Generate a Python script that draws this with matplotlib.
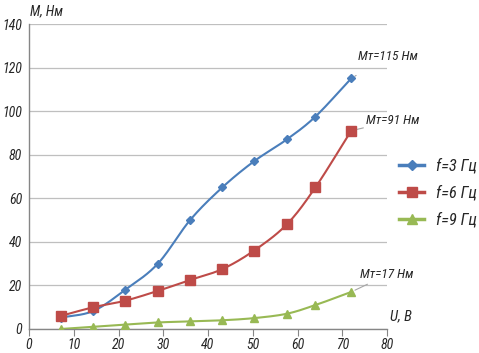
import numpy as np
import matplotlib
matplotlib.use("Agg")
import matplotlib.pyplot as plt
from matplotlib.lines import Line2D

# ---- data ----
u_values = [7.1, 14.4, 21.5, 28.8, 36.0, 43.2, 50.3, 57.6, 64.0, 72.0]
m_f3 = [5.2, 8.3, 18.0, 30.0, 50.0, 65.0, 77.0, 87.0, 97.5, 115.0]
m_f6 = [6.0, 10.0, 13.0, 17.5, 22.5, 27.5, 36.0, 48.0, 65.0, 91.0]
m_f9 = [0.0, 1.0, 2.0, 3.0, 3.5, 4.0, 5.0, 7.0, 11.0, 17.0]
series_labels = ["f=3 Гц", "f=6 Гц", "f=9 Гц"]
annot_labels = ["Мт=115 Нм", "Мт=91 Нм", "Мт=17 Нм"]
x_ticks = [0, 10, 20, 30, 40, 50, 60, 70, 80]
y_ticks = [0, 20, 40, 60, 80, 100, 120, 140]

colors = ["#4A7EBB", "#BE4B48", "#98B954"]
markers = ["D", "s", "^"]
msizes = [4.5, 6.5, 6]

FAM = ["Roboto Condensed", "DejaVu Sans"]
FONT = dict(family=FAM, style="italic")
TXT = "#262626"


def smooth(xs, ys, n=24):
    xs = np.asarray(xs, float); ys = np.asarray(ys, float)
    px = np.concatenate([[2 * xs[0] - xs[1]], xs, [2 * xs[-1] - xs[-2]]])
    py = np.concatenate([[2 * ys[0] - ys[1]], ys, [2 * ys[-1] - ys[-2]]])
    ox, oy = [], []
    t = np.linspace(0, 1, n, endpoint=False)
    for i in range(1, len(px) - 2):
        p0, p1, p2, p3 = [np.array([px[j], py[j]]) for j in (i - 1, i, i + 1, i + 2)]
        for tt in t:
            pt = 0.5 * ((2 * p1) + (-p0 + p2) * tt + (2 * p0 - 5 * p1 + 4 * p2 - p3) * tt ** 2
                        + (-p0 + 3 * p1 - 3 * p2 + p3) * tt ** 3)
            ox.append(pt[0]); oy.append(pt[1])
    ox.append(xs[-1]); oy.append(ys[-1])
    return ox, oy


fig = plt.figure(figsize=(4.79, 3.53), dpi=100)
ax = fig.add_axes([29 / 479, 1 - 329 / 353, (387 - 29) / 479, (329 - 24) / 353])

ax.set_xlim(0, 80)
ax.set_ylim(0, 140)
ax.set_yticks(y_ticks)
ax.set_xticks(x_ticks)
ax.grid(axis="y", color="#BFBFBF", lw=0.9)
ax.set_axisbelow(True)
for s in ["top", "right"]:
    ax.spines[s].set_visible(False)
for s in ["left", "bottom"]:
    ax.spines[s].set_color("#868686")
    ax.spines[s].set_linewidth(1.0)
ax.tick_params(axis="y", length=0, pad=5)
ax.tick_params(axis="x", length=5, direction="out", color="#868686", pad=1.5)
for lab in ax.get_xticklabels() + ax.get_yticklabels():
    lab.set_fontfamily(FAM); lab.set_fontstyle("italic")
    lab.set_fontsize(10); lab.set_color(TXT)

handles = []
for ys, c, m, ms, lab in zip([m_f3, m_f6, m_f9], colors, markers, msizes, series_labels):
    sx, sy = smooth(u_values, ys)
    ax.plot(sx, sy, color=c, lw=1.5, zorder=3)
    ax.plot(u_values, ys, ls="none", marker=m, ms=ms, color=c, zorder=4)
    handles.append(Line2D([], [], color=c, lw=2.5, marker=m, ms=ms + 1, label=lab))

leg = fig.legend(handles=handles, loc="center left", bbox_to_anchor=(399 / 479, 1 - 193 / 353),
                 frameon=False, handlelength=1.5, handletextpad=0.75, labelspacing=0.68,
                 borderaxespad=0, borderpad=0,
                 prop=dict(family=FAM, style="italic", size=12))
for t in leg.get_texts():
    t.set_color(TXT)

# annotations with leader lines
annots = [(m_f3[-1], annot_labels[0], (80.2, 125.3)),
          (m_f6[-1], annot_labels[1], (81.3, 95.5)),
          (m_f9[-1], annot_labels[2], (80.0, 24.8)),
          ]
for yv, txt, (tx, ty) in annots:
    ax.annotate(txt, xy=(u_values[-1], yv), xytext=(tx, ty), ha="center", va="center",
                fontsize=9.5, color=TXT, annotation_clip=False,
                arrowprops=dict(arrowstyle="-", color="#A6A6A6", lw=0.8,
                                shrinkA=14, shrinkB=3), **FONT)

ax.text(0.3, 142.5, "М, Нм", ha="left", va="bottom", fontsize=10, color=TXT,
        clip_on=False, **FONT)
ax.text(83.1, 2.5, "U, В", ha="center", va="bottom", fontsize=10.5, color=TXT,
        clip_on=False, **FONT)

fig.savefig("out.png", dpi=100)
